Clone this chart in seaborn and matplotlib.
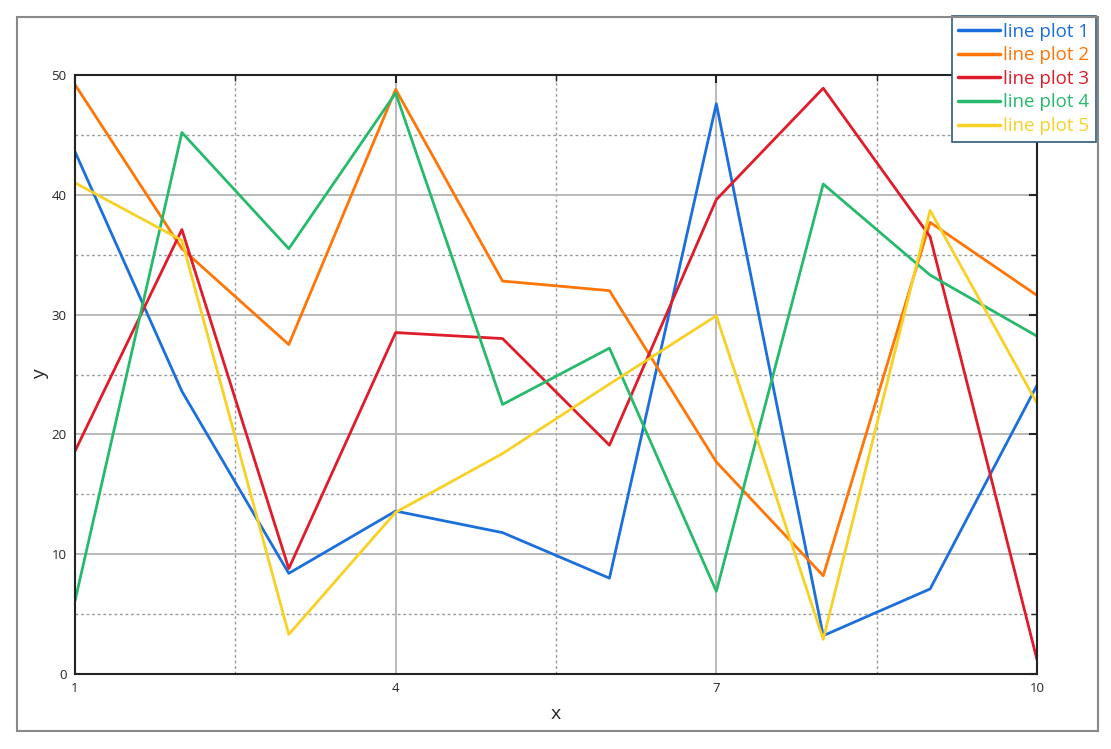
import numpy as np
import pandas as pd
import seaborn as sns
import matplotlib.pyplot as plt
from matplotlib.patches import Rectangle
from matplotlib.ticker import MultipleLocator, FixedLocator

# %% data

x_values = [1, 2, 3, 4, 5, 6, 7, 8, 9, 10]

line_1 = [43.6, 23.6, 8.4, 13.6, 11.8, 8.0, 47.6, 3.2, 7.1, 24.1]
line_2 = [49.2, 35.5, 27.5, 48.8, 32.8, 32.0, 17.7, 8.2, 37.7, 31.6]
line_3 = [18.6, 37.1, 8.8, 28.5, 28.0, 19.1, 39.6, 48.9, 36.5, 1.2]
line_4 = [6.1, 45.2, 35.5, 48.5, 22.5, 27.2, 6.9, 40.9, 33.3, 28.2]
line_5 = [41.0, 36.2, 3.3, 13.5, 18.4, 24.2, 29.9, 2.9, 38.7, 22.6]

series_names = ["line plot 1", "line plot 2", "line plot 3", "line plot 4", "line plot 5"]
colors = ["#1b6fdc", "#ff7506", "#e01b2a", "#27ba6c", "#f7d126"]

x_ticks = [1, 4, 7, 10]
y_ticks = [0, 10, 20, 30, 40, 50]

# %% long table for seaborn

frames = []
for name, vals in zip(series_names, [line_1, line_2, line_3, line_4, line_5]):
    frames.append(pd.DataFrame({"x": x_values, "y": vals, "series": name}))
df = pd.concat(frames, ignore_index=True)

# %% plot

sns.set_style("white")
plt.rcParams['font.family'] = ['Open Sans', 'DejaVu Sans']

fig = plt.figure(figsize=(11.11, 7.49), dpi=100)
ax = fig.add_axes([75/1111, 1 - 674/749, 962/1111, 599/749])

sns.lineplot(data=df, x="x", y="y", hue="series", palette=colors,
             linewidth=2, ax=ax, legend=True)

ax.set_xlim(1, 10)
ax.set_ylim(0, 50)
ax.xaxis.set_major_locator(FixedLocator(x_ticks))
ax.xaxis.set_minor_locator(FixedLocator([2.5, 5.5, 8.5]))
ax.yaxis.set_major_locator(FixedLocator(y_ticks))
ax.yaxis.set_minor_locator(MultipleLocator(5))

ax.grid(True, which="major", color="#b4b4b4", linewidth=1.3, linestyle="-")
ax.grid(True, which="minor", color="#999999", linewidth=1, linestyle=(0, (2, 2)))
ax.set_axisbelow(True)

ax.tick_params(which="major", direction="in", length=6, width=1.5, color="#222222",
               top=True, right=True, labelsize=9.5, pad=6)
ax.tick_params(which="minor", direction="in", length=4, width=1, color="#222222",
               top=True, right=True)
for s in ax.spines.values():
    s.set_color("#222222")
    s.set_linewidth(1.5)

ax.set_xlabel("x", fontsize=14, labelpad=7)
ax.set_ylabel("y", fontsize=14, labelpad=2)

leg = ax.legend(loc="upper right", bbox_to_anchor=(1096/1111, 1 - 16/749),
                bbox_transform=fig.transFigure, fontsize=13.5, frameon=True,
                fancybox=False, framealpha=1, edgecolor="#2f5a78",
                borderaxespad=0, handlelength=2.2, handletextpad=0.2,
                labelspacing=0.3, borderpad=0.35)
leg.get_frame().set_linewidth(1.2)
for txt, c in zip(leg.get_texts(), colors):
    txt.set_color(c)
for h in leg.get_lines():
    h.set_linewidth(2.5)
leg.set_zorder(10)

# outer frame round the figure
fig.patches.append(Rectangle((17/1111, 1 - 731/749), 1081/1111, 714/749,
                             transform=fig.transFigure, fill=False,
                             edgecolor="#888888", linewidth=1.5, zorder=0))

plt.savefig("out.png", dpi=100)
